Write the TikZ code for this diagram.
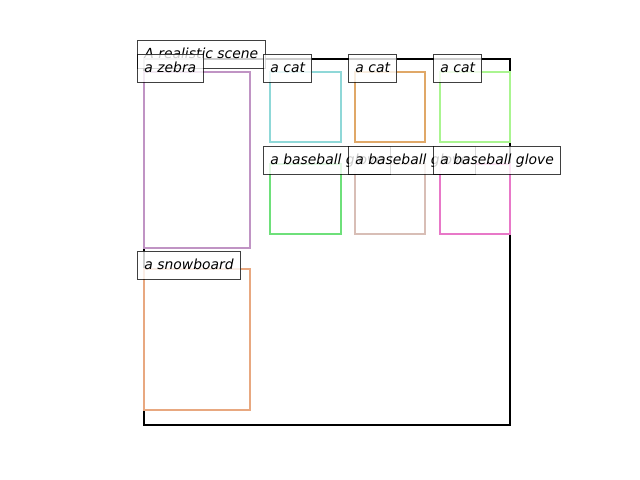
\documentclass[tikz,border=0pt]{standalone}
\usepackage{fontspec}
\setmainfont{DejaVu Sans}
\definecolor{czebra}{RGB}{192,148,196}
\definecolor{ccatA}{RGB}{143,216,216}
\definecolor{ccatB}{RGB}{224,168,104}
\definecolor{ccatC}{RGB}{170,245,144}
\definecolor{cgloveA}{RGB}{110,224,122}
\definecolor{cgloveB}{RGB}{216,190,182}
\definecolor{cgloveC}{RGB}{232,120,200}
\definecolor{csnow}{RGB}{232,168,128}
\begin{document}
\begin{tikzpicture}[x=0.72bp,y=-0.72bp,
  lbl/.style={anchor=north west, draw=black, draw opacity=0.75, fill=white, fill opacity=0.8, text opacity=1,
    line width=0.72bp, inner xsep=5bp, inner ysep=0pt, minimum height=20.16bp,
    text height=0.76em, text depth=0.24em,
    font=\fontsize{10bp}{12bp}\selectfont\itshape},
  bbox/.style={line width=1.5bp}]
\useasboundingbox (0,0) rectangle (640,480);
\draw[line width=1.5bp, black] (144,59) rectangle (510,425);
\draw[bbox, czebra] (144,72) rectangle (250,248);
\draw[bbox, ccatA] (270,72) rectangle (341,142);
\draw[bbox, ccatB] (355,72) rectangle (425,142);
\draw[bbox, ccatC] (440,72) rectangle (510,142);
\draw[bbox, cgloveA] (270,164) rectangle (341,234);
\draw[bbox, cgloveB] (355,164) rectangle (425,234);
\draw[bbox, cgloveC] (440,164) rectangle (510,234);
\draw[bbox, csnow] (144,269) rectangle (250,410);
\node[lbl] (scene) at (137,40) {A realistic scene};
\node[lbl] (zebra) at (137,54) {a zebra};
\node[lbl] (catA) at (263,54) {a cat};
\node[lbl] (catB) at (348,54) {a cat};
\node[lbl] (catC) at (433,54) {a cat};
\node[lbl] (gloveA) at (263,146) {a baseball glove};
\node[lbl] (gloveB) at (348,146) {a baseball glove};
\node[lbl] (gloveC) at (433,146) {a baseball glove};
\node[lbl] (snow) at (137,251) {a snowboard};
\end{tikzpicture}
\end{document}
